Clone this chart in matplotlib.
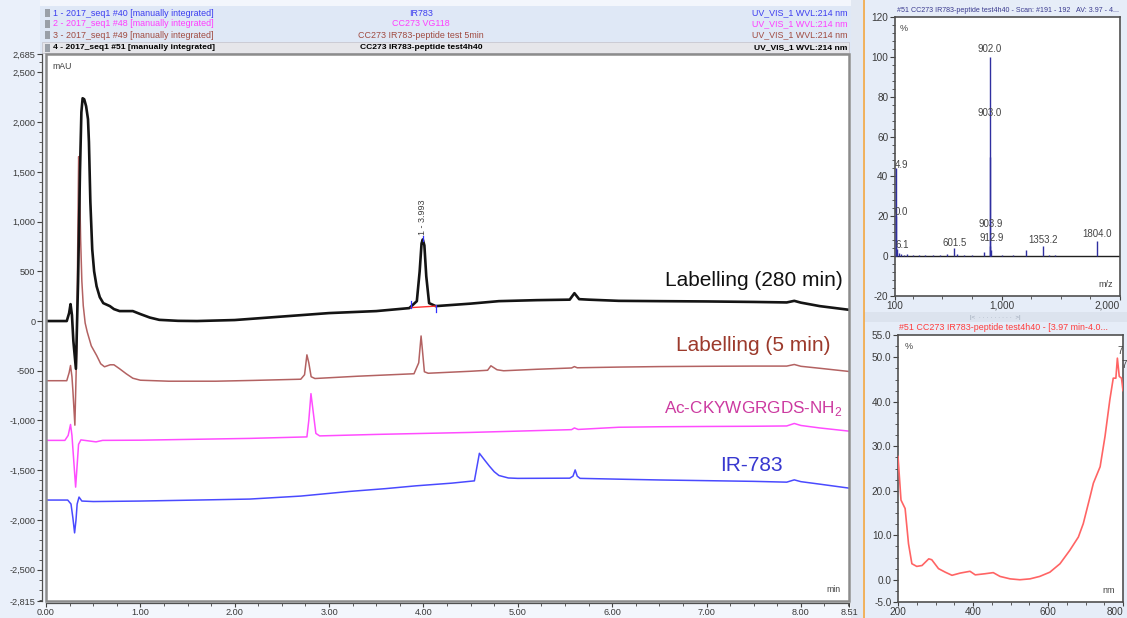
import matplotlib
matplotlib.use("Agg")
import matplotlib.pyplot as plt
from matplotlib.patches import Rectangle
from matplotlib.ticker import FixedLocator, MultipleLocator

plt.rcParams['font.family'] = ['Liberation Sans', 'DejaVu Sans']
plt.rcParams['axes.unicode_minus'] = False

# ---------------- data ----------------
header_left = ["1 - 2017_seq1 #40 [manually integrated]",
               "2 - 2017_seq1 #48 [manually integrated]",
               "3 - 2017_seq1 #49 [manually integrated]",
               "4 - 2017_seq1 #51 [manually integrated]"]
header_mid = ["IR783", "CC273 VG118", "CC273 IR783-peptide test 5min",
              "CC273 IR783-peptide test4h40"]
header_right = ["UV_VIS_1 WVL:214 nm"] * 4

# Labelling (280 min)
black_t = [0, 0.22, 0.245, 0.26, 0.275, 0.29, 0.317, 0.34, 0.36, 0.375, 0.388, 0.405,
           0.425, 0.445, 0.455, 0.47, 0.49, 0.51, 0.536, 0.57, 0.607, 0.677, 0.72, 0.78,
           0.85, 0.92, 1.0, 1.1, 1.2, 1.4, 1.6, 2.0, 2.5, 3.0, 3.5, 3.85, 3.93, 3.96,
           3.98, 3.993, 4.01, 4.03, 4.06, 4.13, 4.5, 4.8, 5.2, 5.55, 5.6, 5.65, 5.75,
           6.07, 6.5, 7.0, 7.5, 7.85, 7.93, 8.0, 8.2, 8.51]
black_v = [0, 0, 80, 170, 60, -200, -480, 400, 1500, 2100, 2240, 2230,
           2160, 2030, 1800, 1200, 720, 500, 350, 240, 180, 150, 120, 100,
           100, 100, 70, 35, 12, 2, 0, 10, 45, 80, 100, 130, 200, 500,
           780, 820, 760, 450, 180, 150, 175, 200, 210, 215, 280, 220, 215,
           203, 200, 197, 192, 187, 203, 185, 150, 113]

# Labelling (5 min)
brown_t = [0, 0.22, 0.245, 0.26, 0.275, 0.285, 0.306, 0.325, 0.346, 0.355, 0.367, 0.38,
           0.395, 0.415, 0.437, 0.48, 0.537, 0.58, 0.62, 0.68, 0.72, 0.78, 0.85, 0.92,
           1.0, 1.3, 1.8, 2.2, 2.7, 2.74, 2.765, 2.785, 2.81, 2.85, 3.3, 3.9, 3.95,
           3.975, 3.99, 4.01, 4.05, 4.5, 4.68, 4.715, 4.78, 4.85, 5.2, 5.57, 5.6, 5.63,
           6.07, 6.5, 7.0, 7.5, 7.85, 7.93, 8.0, 8.2, 8.51]
brown_v = [-600, -600, -520, -447, -560, -700, -1047, -300, 1653, 1400, 820, 400,
           153, -20, -110, -250, -347, -430, -460, -440, -440, -480, -530, -575,
           -595, -605, -605, -597, -585, -540, -340, -420, -560, -578, -555, -530, -420,
           -150, -300, -510, -525, -505, -495, -450, -490, -500, -485, -472, -458, -470,
           -463, -458, -455, -453, -453, -437, -455, -475, -507]

# Ac-CKYWGRGDS-NH2
mag_t = [0, 0.2, 0.235, 0.26, 0.275, 0.29, 0.314, 0.33, 0.345, 0.37, 0.45, 0.53, 0.6,
         1.0, 2.16, 2.765, 2.785, 2.808, 2.83, 2.86, 2.9, 3.5, 4.5, 5.57, 5.6, 5.64,
         6.07, 6.5, 7.0, 7.5, 7.85, 7.93, 8.0, 8.2, 8.51]
mag_v = [-1200, -1200, -1150, -1040, -1150, -1350, -1670, -1450, -1240, -1195, -1205,
         -1215, -1200, -1198, -1180, -1165, -1000, -730, -900, -1130, -1155, -1140,
         -1120, -1092, -1075, -1090, -1068, -1063, -1060, -1058, -1055, -1030, -1050,
         -1075, -1107]

# IR-783
blue_t = [0, 0.23, 0.265, 0.285, 0.303, 0.318, 0.33, 0.35, 0.365, 0.38, 0.5, 1.0, 1.6,
          2.16, 2.7, 3.22, 3.6, 3.92, 4.3, 4.54, 4.57, 4.593, 4.65, 4.7, 4.75, 4.8, 4.9,
          5.0, 5.55, 5.585, 5.608, 5.63, 5.66, 6.07, 6.5, 7.0, 7.5, 7.85, 7.93, 8.0, 8.2,
          8.51]
blue_v = [-1800, -1800, -1840, -1980, -2130, -2000, -1840, -1770, -1790, -1810, -1815,
          -1810, -1800, -1790, -1760, -1713, -1685, -1657, -1630, -1607, -1450, -1330,
          -1400, -1460, -1515, -1553, -1578, -1582, -1580, -1560, -1497, -1560, -1582,
          -1590, -1598, -1605, -1612, -1620, -1597, -1615, -1640, -1680]

trace_labels = ["Labelling (280 min)", "Labelling (5 min)",
                r"Ac-CKYWGRGDS-NH$_{\mathregular{2}}$", "IR-783"]

y_major = [2685, 2500, 2000, 1500, 1000, 500, 0, -500, -1000, -1500, -2000, -2500, -2815]
x_major = [0, 1, 2, 3, 4, 5, 6, 7, 8, 8.51]

# mass spectrum
ms_mz = [104.9, 110.0, 116.1, 130, 150, 175, 200, 250, 300, 350, 420, 480, 540, 601.5,
         620, 680, 750, 850, 902.0, 903.0, 903.9, 912.9, 1000, 1100, 1202, 1353.2, 1400,
         1450, 1804.0]
ms_int = [44, 20, 3.5, 1.5, 1.0, 0.8, 1.0, 0.8, 0.8, 0.6, 0.6, 0.8, 1.0, 4.0,
          1.0, 0.8, 0.7, 2.0, 100, 50, 5.0, 3.0, 0.5, 0.6, 3.0, 5.0, 0.8,
          0.7, 7.5]
ms_labels = ["4.9", "0.0", "6.1", "601.5", "902.0", "903.0", "903.9", "912.9",
             "1353.2", "1804.0"]
ms_label_mz = [104.9, 110.0, 116.1, 601.5, 902.0, 903.0, 903.9, 912.9, 1353.2, 1804.0]

# UV spectrum of the 3.993 min peak
uv_nm = [200, 208, 219, 228, 237, 250, 264, 282, 290, 308, 326, 344, 366, 392, 406,
         432, 454, 472, 499, 525, 552, 578, 605, 632, 658, 681, 694, 712, 721, 739,
         752, 765, 774, 781, 785, 790, 796, 800]
uv_val = [27.7, 17.9, 16.0, 8.1, 3.6, 3.0, 3.2, 4.7, 4.5, 2.5, 1.7, 1.0, 1.5, 1.9, 1.1,
          1.35, 1.6, 0.75, 0.2, 0.0, 0.2, 0.75, 1.7, 3.6, 6.6, 9.6, 12.6, 18.6, 21.7,
          25.4, 32.2, 40.5, 45.3, 45.3, 49.8, 45.7, 45.3, 42.5]

# ---------------- figure ----------------
W, H = 1127, 618
fig = plt.figure(figsize=(W / 100, H / 100), dpi=100)
fig.patch.set_facecolor("#eef3fb")


def frect(l, t, r, b, fc, ec="none", lw=0, z=0):
    fig.patches.append(Rectangle((l / W, 1 - b / H), (r - l) / W, (b - t) / H,
                                 transform=fig.transFigure, facecolor=fc,
                                 edgecolor=ec, linewidth=lw, zorder=z))


def ftext(x, y, s, **kw):
    fig.text(x / W, 1 - y / H, s, **kw)


def add_ax(l, t, r, b):
    return fig.add_axes([l / W, 1 - b / H, (r - l) / W, (b - t) / H])


def style_ticks(a, size):
    a.tick_params(which="major", length=3.5, width=0.8, color="#404040", labelsize=size,
                  labelcolor="#3a3a3a", pad=1.2)
    a.tick_params(axis="x", which="major", length=3, pad=0.6)
    a.tick_params(which="minor", length=2, width=0.6, color="#404040")


def right_align_last_xlabel(a):
    labels = a.get_xticklabels()
    labels[-1].set_horizontalalignment("right")


# backgrounds
frect(0, 0, 1127, 618, "#f3f6fc", z=-5)
frect(0, 0, 40, 618, "#eaf0fa", z=-4)
frect(40, 6, 851, 54, "#dfe8f6", z=-3)
frect(42, 42, 849, 53, "#e6e6ea", ec="#c8c8d0", lw=0.6, z=-2)
frect(851, 0, 863, 618, "#e2e8f2", z=-3)
fig.lines.append(plt.Line2D([863.5 / W, 863.5 / W], [0, 1], transform=fig.transFigure,
                            color="#f2a640", lw=1.2))
frect(864, 0, 1127, 618, "#e6edf8", z=-3)
frect(864, 312, 1127, 322, "#dce3ee", z=-2)
ftext(995, 317, "|<  · · · · · · · · ·  >|", fontsize=4.5, color="#9aa4b4",
      ha="center", va="center")

# header rows
hcolors = ["#3c3cf0", "#ff3cff", "#a04a40", "#000000"]
hy = [13, 24, 35, 47.5]
for i in range(4):
    bold = i == 3
    fs = 6.1 if bold else 6.4
    fw = "bold" if bold else "normal"
    frect(45, hy[i] - 4, 50, hy[i] + 4, "#9aa0a8", z=1)
    ftext(53, hy[i], header_left[i], fontsize=fs, fontweight=fw, color=hcolors[i],
          va="center", ha="left")
    ftext(421, hy[i], header_mid[i], fontsize=fs, fontweight=fw, color=hcolors[i],
          va="center", ha="center")
    ftext(847, hy[i], header_right[i], fontsize=fs, fontweight=fw, color=hcolors[i],
          va="center", ha="right")

# ---------------- main chromatogram ----------------
ax = add_ax(46, 54, 849, 601)
ax.set_facecolor("white")
ax.set_xlim(0, 8.51)
ax.set_ylim(-2815, 2685)
for sp in ["top", "right"]:
    ax.spines[sp].set_visible(False)
ax.spines["left"].set_position(("outward", 3))
ax.spines["bottom"].set_position(("outward", 1.5))
for sp in ["left", "bottom"]:
    ax.spines[sp].set_color("#505050")
    ax.spines[sp].set_linewidth(0.9)
ax.add_patch(Rectangle((0, 0), 1, 1, transform=ax.transAxes, fill=False,
                       edgecolor="#8c8c8c", lw=1.8, zorder=10, clip_on=False))
ax.yaxis.set_major_locator(FixedLocator(y_major))
ax.yaxis.set_minor_locator(MultipleLocator(100))
ax.set_yticklabels([f"{v:,}" for v in y_major])
ax.xaxis.set_major_locator(FixedLocator(x_major))
ax.xaxis.set_minor_locator(MultipleLocator(0.25))
ax.set_xticklabels([f"{v:.2f}" for v in x_major])
style_ticks(ax, 6.6)

ax.plot(blue_t, blue_v, color="#4a4aff", lw=1.1, zorder=3)
ax.plot(mag_t, mag_v, color="#ff4cff", lw=1.1, zorder=3)
ax.plot(brown_t, brown_v, color="#b36262", lw=1.1, zorder=4)
ax.plot(black_t, black_v, color="#141414", lw=1.9, zorder=5)

# integration marks on peak 1
ax.plot([3.87, 4.13], [135, 150], color="#ff3030", lw=1.0, zorder=6)
ax.plot([3.87, 3.87], [130, 200], color="#3030ff", lw=0.9, zorder=6)
ax.plot([4.13, 4.13], [95, 160], color="#3030ff", lw=0.9, zorder=6)
ax.plot([3.993, 3.993], [800, 860], color="#3030ff", lw=0.9, zorder=6)
ax.text(3.993, 870, "1 - 3.993", rotation=90, ha="center", va="bottom",
        fontsize=6.5, color="#404040")

ax.text(0.008, 0.985, "mAU", transform=ax.transAxes, fontsize=6.3, color="#404040",
        ha="left", va="top")
ax.text(0.99, 0.012, "min", transform=ax.transAxes, fontsize=6.3, color="#404040",
        ha="right", va="bottom")

ax.text(8.44, 410, trace_labels[0], fontsize=15, color="#111111", ha="right", va="center")
ax.text(8.31, -250, trace_labels[1], fontsize=15, color="#9c3a2c", ha="right", va="center")
ax.text(8.44, -880, trace_labels[2], fontsize=12.3, color="#cc3aa0", ha="right",
        va="center")
ax.text(7.48, -1450, trace_labels[3], fontsize=15, color="#3838d0", ha="center",
        va="center")

# ---------------- mass spectrum ----------------
ms = add_ax(895, 17, 1120, 296)
ms.set_facecolor("white")
ms.set_xlim(100, 2000)
ms.set_ylim(-20, 120)
for sp in ms.spines.values():
    sp.set_color("#505050")
    sp.set_linewidth(1.2)
ms.yaxis.set_major_locator(MultipleLocator(20))
ms.yaxis.set_minor_locator(MultipleLocator(4))
ms.xaxis.set_major_locator(FixedLocator([100, 1000, 2000]))
ms.xaxis.set_minor_locator(MultipleLocator(250))
ms.set_xticklabels(["100", "1,000", "2,000"])
style_ticks(ms, 7.2)
right_align_last_xlabel(ms)
ms.axhline(0, color="#202020", lw=1.0, zorder=2)
ms.vlines(ms_mz, 0, ms_int, color="#2f2fa0", lw=1.0, zorder=3)
ms_label_y = [45.5, 22, 5.5, 6.5, 104, 72, 16, 9, 8, 11]
for s, x, y in zip(ms_labels, ms_label_mz, ms_label_y):
    if s in ("4.9", "0.0", "6.1"):
        ms.text(100, y, s, fontsize=7, color="#444444", ha="left", va="center")
    else:
        ms.text(x, y, s, fontsize=7, color="#444444", ha="center", va="center")
ms.text(0.02, 0.975, "%", transform=ms.transAxes, fontsize=6.5, color="#404040",
        ha="left", va="top")
ms.text(0.97, 0.025, "m/z", transform=ms.transAxes, fontsize=6.5, color="#404040",
        ha="right", va="bottom")
ftext(897, 11, "#51 CC273 IR783-peptide test4h40 - Scan: #191 - 192   AV: 3.97 - 4...",
      fontsize=5.1, color="#3b3b8f", ha="left", va="center")

# ---------------- UV spectrum ----------------
uv = add_ax(898, 335, 1123, 602)
uv.set_facecolor("white")
uv.set_xlim(200, 800)
uv.set_ylim(-5, 55)
for sp in uv.spines.values():
    sp.set_color("#505050")
    sp.set_linewidth(1.2)
uv.set_yticks([-5, 0, 10, 20, 30, 40, 50, 55])
uv.set_yticklabels(["-5.0", "0.0", "10.0", "20.0", "30.0", "40.0", "50.0", "55.0"])
uv.yaxis.set_minor_locator(MultipleLocator(2.5))
uv.xaxis.set_major_locator(FixedLocator([200, 400, 600, 800]))
uv.xaxis.set_minor_locator(MultipleLocator(50))
uv.set_xticklabels(["200", "400", "600", "800"])
style_ticks(uv, 7.2)
right_align_last_xlabel(uv)
uv.plot(uv_nm, uv_val, color="#ff6464", lw=1.2, zorder=3)
uv.text(0.03, 0.975, "%", transform=uv.transAxes, fontsize=6.5, color="#404040",
        ha="left", va="top")
uv.text(0.965, 0.025, "nm", transform=uv.transAxes, fontsize=6.5, color="#404040",
        ha="right", va="bottom")
uv.text(786, 51.3, "7", fontsize=7, color="#444444", ha="left", va="center",
        clip_on=False)
uv.text(797, 48.2, "7", fontsize=7, color="#444444", ha="left", va="center",
        clip_on=False)
ftext(899, 328, "#51 CC273 IR783-peptide test4h40 - [3.97 min-4.0...", fontsize=6.4,
      color="#ff3b3b", ha="left", va="center")

fig.savefig("out.png", dpi=100, facecolor=fig.get_facecolor())
